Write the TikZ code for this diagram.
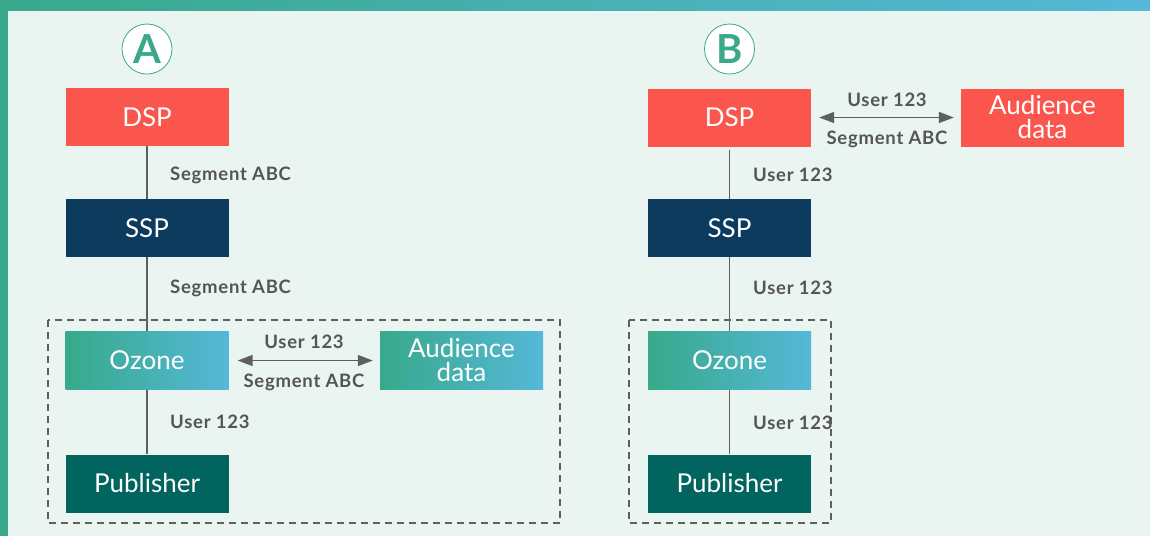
\documentclass[tikz,border=0pt]{standalone}
\usepackage{fontspec}
\setmainfont{Lato}
\newfontfamily\tagfont[LetterSpace=4]{Lato}
\usetikzlibrary{arrows.meta}
\definecolor{bgmint}{HTML}{EAF4F0}
\definecolor{ozgreen}{HTML}{38A98B}
\definecolor{ozblue}{HTML}{55B8D8}
\definecolor{dspred}{HTML}{FB564D}
\definecolor{sspnavy}{HTML}{0D3B5E}
\definecolor{pubteal}{HTML}{01645F}
\definecolor{linegray}{HTML}{5F5F5F}
\definecolor{labelgray}{HTML}{555555}
\tikzset{
  box/.style={minimum width=163pt, minimum height=58pt, inner sep=0pt,
    text=white, font=\fontsize{26}{24}\selectfont, align=center},
  dspbox/.style={box, fill=dspred},
  sspbox/.style={box, fill=sspnavy},
  pubbox/.style={box, fill=pubteal},
  ozbox/.style={box, left color=ozgreen, right color=ozblue},
  link/.style={draw=linegray, line width=1.6pt},
  duplex/.style={link, {Triangle[length=15pt,width=11pt]}-{Triangle[length=15pt,width=11pt]}},
  tag/.style={text=labelgray, font=\tagfont\bfseries\fontsize{18.5}{20}\selectfont, inner sep=0pt},
  zone/.style={draw=linegray, line width=1.5pt, dash pattern=on 7pt off 5pt},
  badge/.style={circle, draw=ozgreen, line width=0.8pt, fill=white, minimum size=50pt,
    inner sep=0pt, text=ozgreen, font=\bfseries\fontsize{40}{40}\selectfont}
}
\begin{document}
\begin{tikzpicture}[x=1pt,y=-1pt]
\useasboundingbox (0,0) rectangle (1150,536);
% page background and frame
\fill[bgmint] (0,0) rectangle (1150,536);
\shade[left color=ozgreen, right color=ozblue] (0,0) rectangle (1150,10);
\fill[ozgreen] (0,0) rectangle (8,536);

% ---------- scenario A ----------
\node[badge] (badgeA) at (147,49) {A};
\draw[zone] (48,320) rectangle (560,523);
\node[dspbox] (dspA) at (147,117) {DSP};
\node[sspbox] (sspA) at (147,228) {SSP};
\node[ozbox] (ozA) at (147,360.5) {Ozone};
\node[ozbox] (audA) at (461.5,360.5) {Audience\\data};
\node[pubbox] (pubA) at (147,483.5) {Publisher};
\draw[link] (dspA) -- (sspA);
\draw[link] (sspA) -- (ozA);
\draw[link] (ozA) -- (pubA);
\draw[duplex, shorten <=9pt, shorten >=7pt] (ozA) -- (audA);
\node[tag, anchor=west] (tA1) at (170,175) {Segment ABC};
\node[tag, anchor=west] (tA2) at (170,288) {Segment ABC};
\node[tag, anchor=west] (tA3) at (170,422) {User 123};
\node[tag] (tA4) at (304,342) {User 123};
\node[tag] (tA5) at (304,382) {Segment ABC};

% ---------- scenario B ----------
\node[badge] (badgeB) at (729.5,49) {B};
\draw[zone] (629,320) rectangle (831,523);
\node[dspbox] (dspB) at (729.5,117.5) {DSP};
\node[dspbox] (audB) at (1042.5,117.5) {Audience\\data};
\node[sspbox] (sspB) at (729.5,228) {SSP};
\node[ozbox] (ozB) at (729.5,360.5) {Ozone};
\node[pubbox] (pubB) at (729.5,483.5) {Publisher};
\draw[link, shorten <=3pt] (dspB) -- (sspB);
\draw[link] (sspB) -- (ozB);
\draw[link] (ozB) -- (pubB);
\draw[duplex, shorten <=8pt, shorten >=7pt] (dspB) -- (audB);
\node[tag, anchor=west] (tB1) at (753,175) {User 123};
\node[tag, anchor=west] (tB2) at (753,288) {User 123};
\node[tag, anchor=west] (tB3) at (753,423) {User 123};
\node[tag] (tB4) at (887,100) {User 123};
\node[tag] (tB5) at (887,139) {Segment ABC};
\end{tikzpicture}
\end{document}
